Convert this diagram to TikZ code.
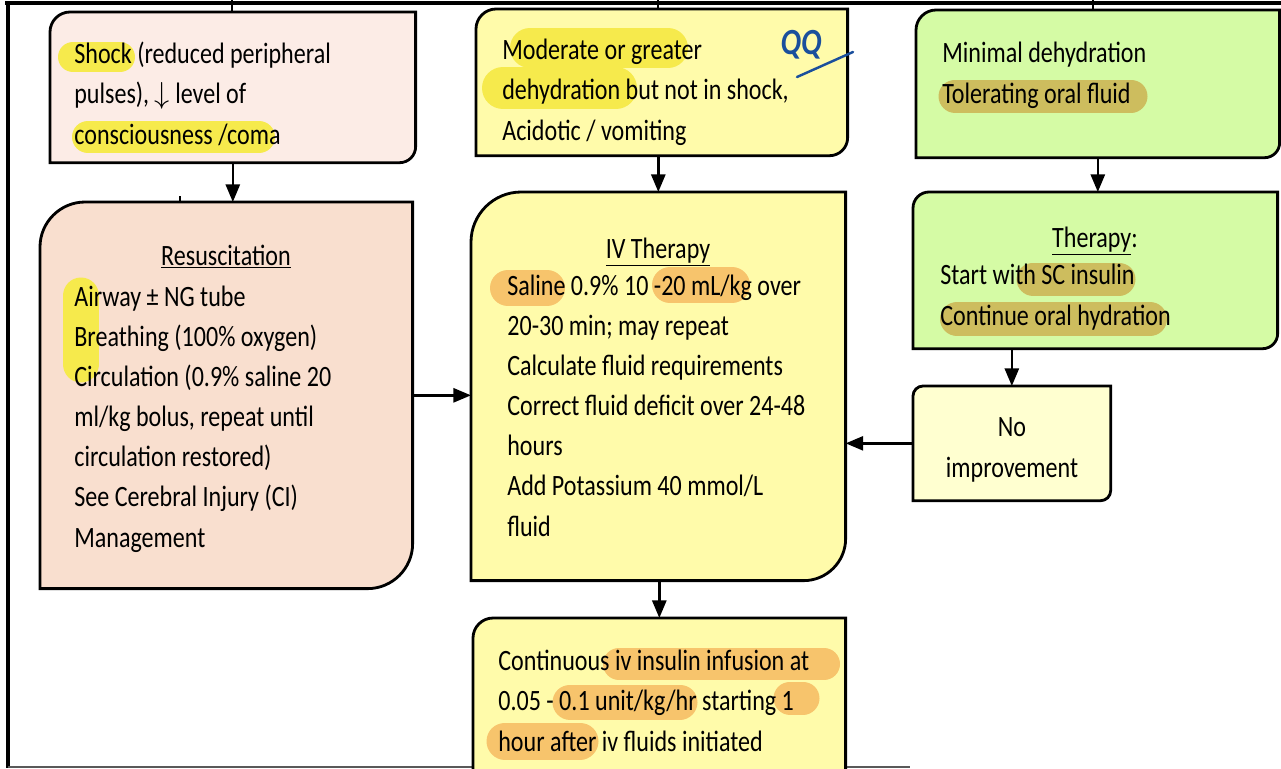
\documentclass[tikz,border=0pt]{standalone}
\usepackage{fontspec}
\setmainfont{Carlito}[FakeStretch=0.815]
\usepackage{tikz}
\usetikzlibrary{arrows.meta, calc}

\definecolor{shockpink}{HTML}{FCECE6}
\definecolor{resuspeach}{HTML}{F9DFCF}
\definecolor{ivyellow}{HTML}{FFFBAA}
\definecolor{mildgreen}{HTML}{D5FBA5}
\definecolor{paleyellow}{HTML}{FFFFD0}
\definecolor{hlyellow}{HTML}{F6EA4C}
\definecolor{hlorange}{HTML}{F7C46C}
\definecolor{hlolive}{HTML}{CDBD5E}
\definecolor{penblue}{HTML}{1A4F9C}

\tikzset{
  box/.style={anchor=north west, inner sep=0pt, draw=none},
  boxline/.style={draw=black, line width=1.6pt},
  txt/.style={anchor=base west, align=left, inner sep=0pt, font=\fontsize{16.8}{22.8}\selectfont},
  head/.style={anchor=base, inner sep=0pt, font=\fontsize{16.8}{22.8}\selectfont},
  link/.style={line width=1.4pt},
  arrow/.style={link, -{Triangle[width=8pt,length=10pt]}},
  hl/.style={line cap=round}
}

% outline with rounded top-left and bottom-right corners
\newcommand\boxoutline[4]{%
  \draw[boxline, fill=#2]
    ($(#1.north west)+(0,#3)$) .. controls ($(#1.north west)+(0,0.45*#3)$) and ($(#1.north west)+(0.45*#3,0)$) .. ($(#1.north west)+(#3,0)$)
    -- (#1.north east)
    -- ($(#1.south east)+(0,-#4)$) .. controls ($(#1.south east)+(0,-0.45*#4)$) and ($(#1.south east)+(-0.45*#4,0)$) .. ($(#1.south east)+(-#4,0)$)
    -- (#1.south west) -- cycle;}

\begin{document}
\begin{tikzpicture}[x=0.02cm, y=-0.02cm]
    \useasboundingbox (0,0) rectangle (1281,768);
    \clip (0,0) rectangle (1281,768);
    % frame of the page
    \draw[line width=2.3pt] (5,3) -- (1281,3);
    \draw[line width=2.3pt] (8,2) -- (8,768);
    \draw[gray!70!black, line width=0.8pt] (8,767) -- (910,767);

    % boxes
    \node[box, minimum width=7.3cm, minimum height=3cm] (shock) at (50,12) {};
    \node[box, minimum width=7.42cm, minimum height=2.92cm] (moderate) at (476,9) {};
    \node[box, minimum width=7.26cm, minimum height=2.94cm] (minimal) at (916,10) {};
    \node[box, minimum width=7.44cm, minimum height=7.72cm] (resus) at (40,202) {};
    \node[box, minimum width=7.48cm, minimum height=7.76cm] (ivther) at (471,192) {};
    \node[box, minimum width=7.28cm, minimum height=3.12cm] (scther) at (913,192) {};
    \node[box, minimum width=3.94cm, minimum height=2.28cm] (noimp) at (913,386) {};
    \node[box, minimum width=7.44cm, minimum height=3.44cm] (insulin) at (473,618) {};

    \boxoutline{shock}{shockpink}{20}{16}
    \boxoutline{moderate}{ivyellow}{20}{18}
    \boxoutline{minimal}{mildgreen}{20}{15}
    \boxoutline{resus}{resuspeach}{45}{45}
    \boxoutline{ivther}{ivyellow}{50}{42}
    \boxoutline{scther}{mildgreen}{16}{15}
    \boxoutline{noimp}{paleyellow}{10}{10}
    \boxoutline{insulin}{ivyellow}{20}{20}

    % marker highlights
    \draw[hl, hlyellow, line width=0.6cm] (73,57) -- (120,57);
    \draw[hl, hlyellow, line width=0.64cm] (88,137) -- (259,137);
    \draw[hl, hlyellow, line width=0.8cm] (530,48) -- (668,48);
    \draw[hl, hlyellow, line width=0.84cm] (503,88) -- (616,88);
    \draw[hl, hlolive, line width=0.66cm] (955,96) -- (1131,96);
    \draw[hl, hlyellow, line width=0.74cm] (81,296) -- (81,364);
    \draw[hl, hlorange, line width=0.72cm] (508,288) -- (547,288);
    \draw[hl, hlorange, line width=0.72cm] (670,285) -- (732,285);
    \draw[hl, hlolive, line width=0.66cm] (1033,279) -- (1119,279);
    \draw[hl, hlolive, line width=0.68cm] (957,319) -- (1150,319);
    \draw[hl, hlorange, line width=0.64cm] (619,664) -- (824,664);
    \draw[hl, hlorange, line width=0.7cm] (570,702) -- (680,702);
    \draw[hl, hlorange, line width=0.66cm] (790,698) -- (803,698);
    \draw[hl, hlorange, line width=0.74cm] (505,741) -- (580,741);

    % texts (placed at the baseline of their last line)
    \node[txt] (shocktxt) at (74,144) {Shock (reduced peripheral\\pulses), $\downarrow$ level of\\consciousness /coma};
    \node[txt] (modtxt) at (502,140) {Moderate or greater\\dehydration but not in shock,\\Acidotic / vomiting};
    \node[txt] (mintxt) at (942,103) {Minimal dehydration\\Tolerating oral fluid};
    \node[head] (resushead) at (226,265) {\underline{Resuscitation}};
    \node[txt] (resustxt) at (74,547) {Airway ± NG tube\\Breathing (100\% oxygen)\\Circulation (0.9\% saline 20\\ml/kg bolus, repeat until\\circulation restored)\\See Cerebral Injury (CI)\\Management};
    \node[head] (ivhead) at (658,258) {\underline{IV Therapy}};
    \node[txt] (ivtxt) at (507,536) {Saline 0.9\% 10 -20 mL/kg over\\20-30 min; may repeat\\Calculate fluid requirements\\Correct fluid deficit over 24-48\\hours\\Add Potassium 40 mmol/L\\fluid};
    \node[head] (schead) at (1095,247) {\underline{Therapy}:};
    \node[txt] (sctxt) at (940,325) {Start with SC insulin\\Continue oral hydration};
    \node[head, align=center] (noimptxt) at (1012,477) {No\\improvement};
    \node[txt] (insulintxt) at (498,751) {Continuous iv insulin infusion at\\0.05 - 0.1 unit/kg/hr starting 1\\hour after iv fluids initiated};

    % pen note
    \node[penblue, inner sep=0pt, font=\fontsize{21}{22}\selectfont\bfseries\itshape] (qq) at (801,45) {QQ};
    \draw[penblue, line width=1.4pt, line cap=round] (797,77) -- (853,52);

    % connectors
    \coordinate (inshock) at (232,0);
    \coordinate (inmod) at (658,0);
    \coordinate (inmin) at (1093,0);
    \draw[link] (inshock) -- (inshock |- shock.north);
    \draw[link] (inmod) -- (inmod |- moderate.north);
    \draw[link] (inmin) -- (inmin |- minimal.north);
    \draw[arrow] (shock.south) -- (shock.south |- resus.north);
    \draw[arrow] (ivther.north |- moderate.south) -- (ivther.north);
    \draw[arrow] (minimal.south) -- (minimal.south |- scther.north);
    \draw[arrow] (noimp.north |- scther.south) -- (noimp.north);
    \draw[arrow] (resus.east) -- (resus.east -| ivther.west);
    \draw[arrow] (noimp.west) -- (noimp.west -| ivther.east);
    \draw[arrow] (insulin.north |- ivther.south) -- (insulin.north);
    \draw[line width=1pt] (180,196) -- (180,202);
\end{tikzpicture}
\end{document}
